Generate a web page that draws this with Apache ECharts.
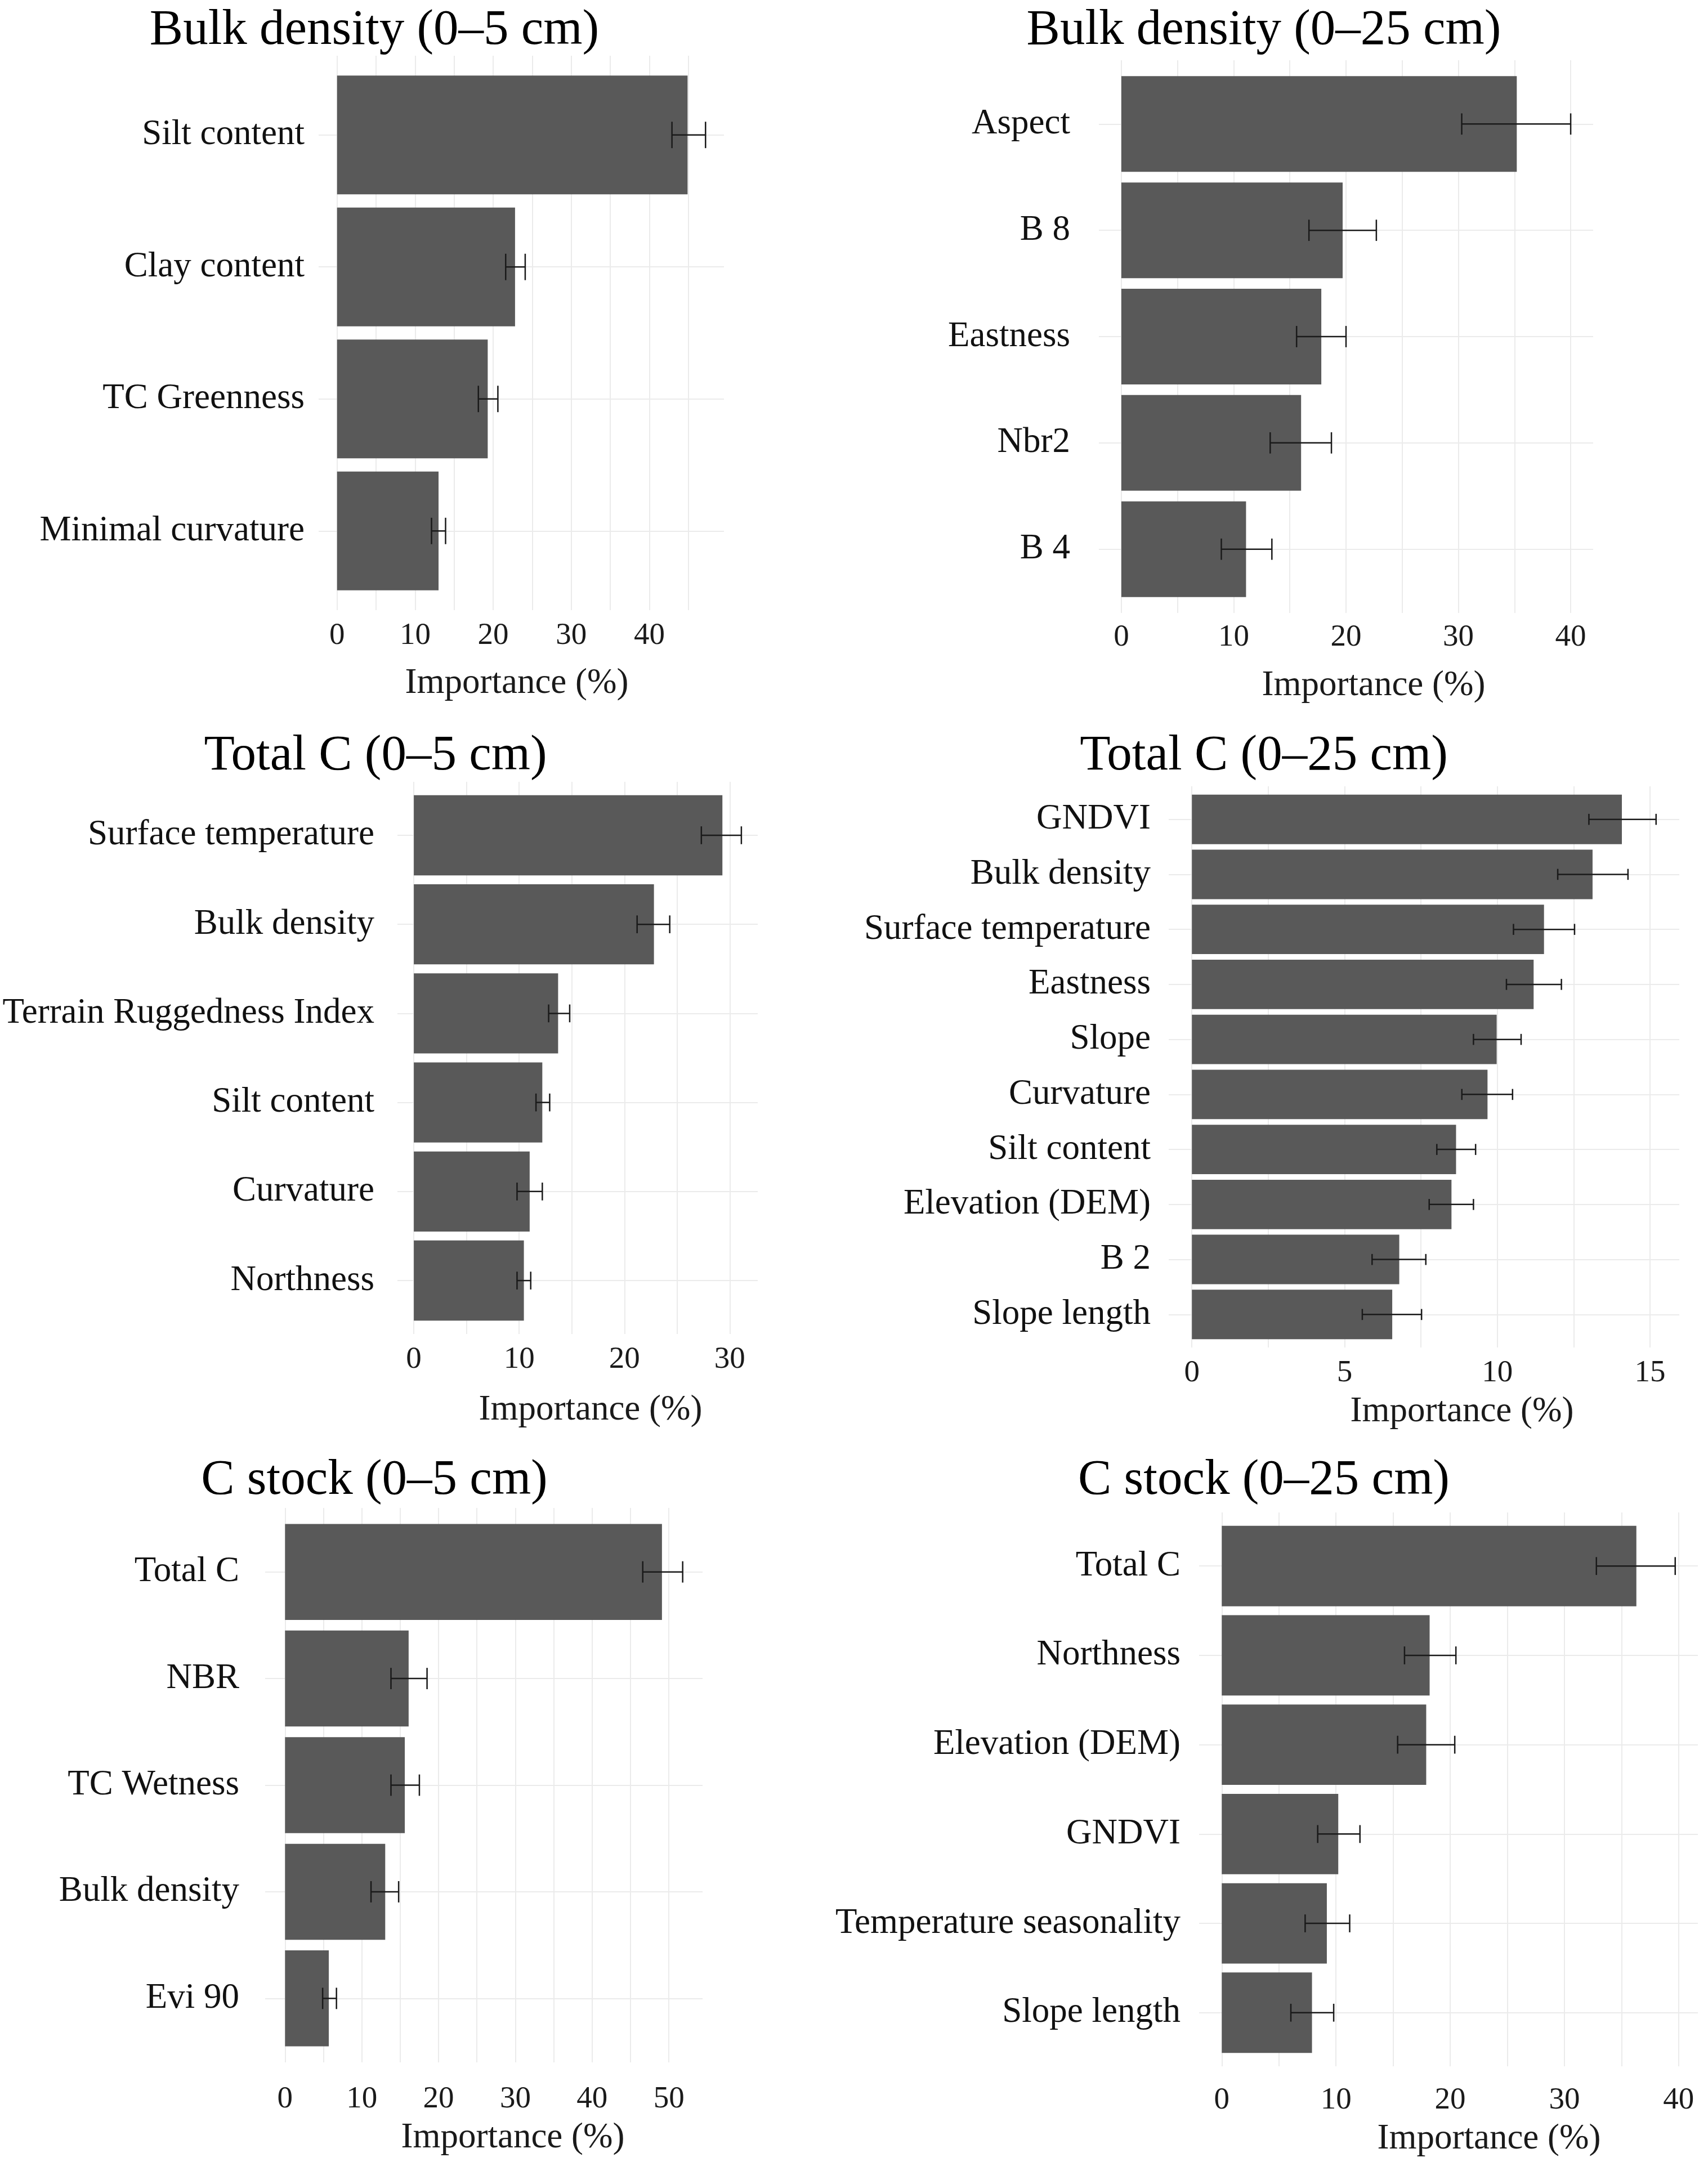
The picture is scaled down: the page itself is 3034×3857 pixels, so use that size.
<!DOCTYPE html>
<html>
<head>
<meta charset="utf-8">
<script src="https://cdn.jsdelivr.net/npm/echarts@6/dist/echarts.min.js"></script>
<style>
  html, body { margin: 0; padding: 0; background: #fff; }
  #chart { width: 3034px; height: 3857px; }
</style>
</head>
<body>
<div id="chart"></div>
<script>
// Bulk density (0–5 cm)
const bd5Labels = ['Silt content', 'Clay content', 'TC Greenness', 'Minimal curvature'];
const bd5Values = [44.9, 22.8, 19.3, 13.0];
const bd5Low = [42.9, 21.6, 18.1, 12.1];
const bd5High = [47.2, 24.1, 20.6, 13.9];
const bd5Ticks = [0, 10, 20, 30, 40];

// Bulk density (0–25 cm)
const bd25Labels = ['Aspect', 'B 8', 'Eastness', 'Nbr2', 'B 4'];
const bd25Values = [35.2, 19.7, 17.8, 16.0, 11.1];
const bd25Low = [30.3, 16.7, 15.6, 13.25, 8.9];
const bd25High = [40.0, 22.7, 20.0, 18.7, 13.4];
const bd25Ticks = [0, 10, 20, 30, 40];

// Total C (0–5 cm)
const tc5Labels = ['Surface temperature', 'Bulk density', 'Terrain Ruggedness Index', 'Silt content', 'Curvature', 'Northness'];
const tc5Values = [29.3, 22.8, 13.7, 12.2, 11.0, 10.45];
const tc5Low = [27.3, 21.2, 12.8, 11.6, 9.8, 9.8];
const tc5High = [31.1, 24.3, 14.8, 12.9, 12.2, 11.1];
const tc5Ticks = [0, 10, 20, 30];

// Total C (0–25 cm)
const tc25Labels = ['GNDVI', 'Bulk density', 'Surface temperature', 'Eastness', 'Slope', 'Curvature', 'Silt content', 'Elevation (DEM)', 'B 2', 'Slope length'];
const tc25Values = [14.08, 13.12, 11.53, 11.19, 9.98, 9.68, 8.65, 8.50, 6.79, 6.56];
const tc25Low = [13.0, 11.98, 10.53, 10.30, 9.22, 8.84, 8.02, 7.77, 5.90, 5.58];
const tc25High = [15.2, 14.28, 12.53, 12.10, 10.78, 10.50, 9.29, 9.22, 7.66, 7.52];
const tc25Ticks = [0, 5, 10, 15];

// C stock (0–5 cm)
const cs5Labels = ['Total C', 'NBR', 'TC Wetness', 'Bulk density', 'Evi 90'];
const cs5Values = [49.1, 16.1, 15.6, 13.05, 5.7];
const cs5Low = [46.6, 13.8, 13.8, 11.2, 4.9];
const cs5High = [51.8, 18.5, 17.5, 14.8, 6.7];
const cs5Ticks = [0, 10, 20, 30, 40, 50];

// C stock (0–25 cm)
const cs25Labels = ['Total C', 'Northness', 'Elevation (DEM)', 'GNDVI', 'Temperature seasonality', 'Slope length'];
const cs25Values = [36.3, 18.2, 17.9, 10.2, 9.2, 7.9];
const cs25Low = [32.8, 16.0, 15.4, 8.4, 7.3, 6.05];
const cs25High = [39.7, 20.5, 20.4, 12.1, 11.2, 9.8];
const cs25Ticks = [0, 10, 20, 30, 40];

const FONT = '"Liberation Serif", "DejaVu Serif", serif';
const BAR = '#595959';
const GRIDLINE = '#ebebeb';

// one entry per panel: data + where it sits on the page
const panels = [
  { title: 'Bulk density (0–5 cm)', labels: bd5Labels, values: bd5Values, low: bd5Low, high: bd5High, ticks: bd5Ticks, step: 5,
    box: [566, 99, 720, 985], labelGap: 25, tickGap: 46, titleXY: [665, 55], axisXY: [918, 1214] },
  { title: 'Bulk density (0–25 cm)', labels: bd25Labels, values: bd25Values, low: bd25Low, high: bd25High, ticks: bd25Ticks, step: 5,
    box: [1952, 107, 878, 982], labelGap: 51, tickGap: 44, titleXY: [2245, 55], axisXY: [2440, 1218] },
  { title: 'Total C (0–5 cm)', labels: tc5Labels, values: tc5Values, low: tc5Low, high: tc5High, ticks: tc5Ticks, step: 5,
    box: [706, 1389, 640, 981], labelGap: 41, tickGap: 46, titleXY: [667, 1344], axisXY: [1049, 2505] },
  { title: 'Total C (0–25 cm)', labels: tc25Labels, values: tc25Values, low: tc25Low, high: tc25High, ticks: tc25Ticks, step: 2.5,
    box: [2076, 1397, 907, 997], labelGap: 32, tickGap: 46, titleXY: [2245, 1344], axisXY: [2597, 2508] },
  { title: 'C stock (0–5 cm)', labels: cs5Labels, values: cs5Values, low: cs5Low, high: cs5High, ticks: cs5Ticks, step: 5,
    box: [471, 2679, 777, 985], labelGap: 46, tickGap: 66, titleXY: [665, 2631], axisXY: [911, 3798] },
  { title: 'C stock (0–25 cm)', labels: cs25Labels, values: cs25Values, low: cs25Low, high: cs25High, ticks: cs25Ticks, step: 5,
    box: [2130, 2687, 886, 984], labelGap: 33, tickGap: 61, titleXY: [2245, 2631], axisXY: [2645, 3800] },
];

let chart = echarts.init(document.getElementById('chart'), null, { renderer: 'canvas' });

let grids = [], xAxes = [], yAxes = [], series = [], texts = [];

panels.forEach(function (p, k) {
  const n = p.labels.length;
  const top = Math.max.apply(null, p.high);
  const xMin = -0.05 * top;   // ggplot-style 5% expansion
  const xMax = 1.05 * top;
  const gridVals = [];
  for (let v = 0; v <= xMax + 1e-9; v += p.step) {
    gridVals.push(+v.toFixed(2));
  }
  const positions = p.labels.map(function (_, i) { return i + 1; });

  grids.push({ left: p.box[0], top: p.box[1], width: p.box[2], height: p.box[3], containLabel: false });

  xAxes.push({
    type: 'value', gridIndex: k, min: xMin, max: xMax,
    axisLine: { show: false },
    axisTick: { show: false, customValues: gridVals },
    axisLabel: {
      customValues: p.ticks, margin: p.tickGap, verticalAlign: 'middle',
      fontFamily: FONT, fontSize: 55, color: '#1a1a1a',
    },
    splitLine: { show: true, lineStyle: { color: GRIDLINE, width: 2 } },
  });

  yAxes.push({
    type: 'value', gridIndex: k, min: 0.4, max: n + 0.6, inverse: true,
    axisLine: { show: false },
    axisTick: { show: false, customValues: positions },
    axisLabel: {
      customValues: positions, margin: p.labelGap,
      fontFamily: FONT, fontSize: 63, color: '#111',
      formatter: function (v) { return p.labels[Math.round(v) - 1] || ''; },
    },
    splitLine: { show: true, lineStyle: { color: GRIDLINE, width: 2 } },
  });

  // bars
  series.push({
    type: 'custom', xAxisIndex: k, yAxisIndex: k, silent: true,
    data: p.values.map(function (v, i) { return [v, i + 1]; }),
    renderItem: function (params, api) {
      const pos = api.value(1);
      const a = api.coord([0, pos]);
      const b = api.coord([api.value(0), pos]);
      const h = api.size([0, 0.9])[1];
      return { type: 'rect', shape: { x: a[0], y: a[1] - h / 2, width: b[0] - a[0], height: h }, style: { fill: BAR } };
    },
    z: 2,
  });

  // error bars
  series.push({
    type: 'custom', xAxisIndex: k, yAxisIndex: k, silent: true,
    data: p.low.map(function (lo, i) { return [lo, p.high[i], i + 1]; }),
    renderItem: function (params, api) {
      const pos = api.value(2);
      const a = api.coord([api.value(0), pos]);
      const b = api.coord([api.value(1), pos]);
      const c = api.size([0, 0.2])[1] / 2;
      const st = { stroke: '#1a1a1a', lineWidth: 2.5, fill: null };
      return {
        type: 'group',
        children: [
          { type: 'line', shape: { x1: a[0], y1: a[1], x2: b[0], y2: b[1] }, style: st },
          { type: 'line', shape: { x1: a[0], y1: a[1] - c, x2: a[0], y2: a[1] + c }, style: st },
          { type: 'line', shape: { x1: b[0], y1: b[1] - c, x2: b[0], y2: b[1] + c }, style: st },
        ],
      };
    },
    z: 3,
  });

  texts.push({
    type: 'text', x: p.titleXY[0], y: p.titleXY[1],
    style: { text: p.title, fontFamily: FONT, fontSize: 89, fill: '#000',
      align: 'center', verticalAlign: 'middle', textAlign: 'center', textVerticalAlign: 'middle' },
  });
  texts.push({
    type: 'text', x: p.axisXY[0], y: p.axisXY[1],
    style: { text: 'Importance (%)', fontFamily: FONT, fontSize: 63, fill: '#1a1a1a',
      align: 'center', verticalAlign: 'middle', textAlign: 'center', textVerticalAlign: 'middle' },
  });
});

let option = {
  backgroundColor: '#ffffff',
  animation: false,
  grid: grids,
  xAxis: xAxes,
  yAxis: yAxes,
  series: series,
  graphic: { elements: texts },
};

chart.setOption(option);

window.addEventListener('resize', chart.resize);
</script>
</body>
</html>
